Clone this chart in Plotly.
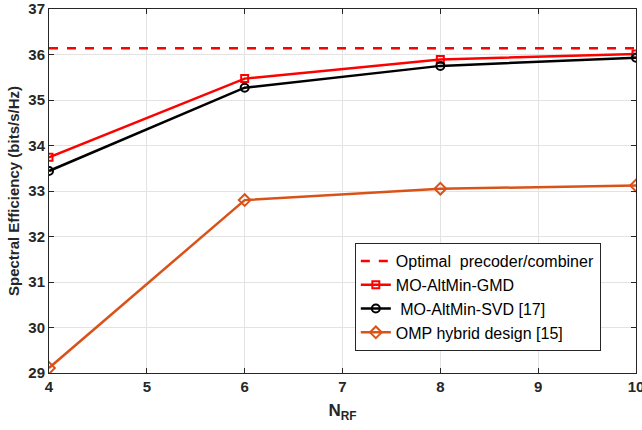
import plotly.graph_objects as go

n_rf = [4, 6, 8, 10]
optimal = [36.14, 36.14, 36.14, 36.14]
gmd = [33.74, 35.47, 35.89, 36.01]
svd = [33.44, 35.27, 35.75, 35.93]
omp = [29.11, 32.80, 33.05, 33.12]

fig = go.Figure()
fig.add_trace(go.Scatter(x=n_rf, y=optimal, mode="lines", name="Optimal  precoder/combiner",
                         line=dict(color="#ff0000", width=2.5, dash="dash")))
fig.add_trace(go.Scatter(x=n_rf, y=gmd, mode="lines+markers", name="MO-AltMin-GMD",
                         line=dict(color="#ff0000", width=2.5),
                         marker=dict(symbol="square-open", size=7, color="#ff0000", line=dict(width=2))))
fig.add_trace(go.Scatter(x=n_rf, y=svd, mode="lines+markers", name=" MO-AltMin-SVD [17]",
                         line=dict(color="#000000", width=2.5),
                         marker=dict(symbol="circle-open", size=8, color="#000000", line=dict(width=2))))
fig.add_trace(go.Scatter(x=n_rf, y=omp, mode="lines+markers", name="OMP hybrid design [15]",
                         line=dict(color="#d95319", width=2.5),
                         marker=dict(symbol="diamond-open", size=9, color="#d95319", line=dict(width=2))))

axis_common = dict(showgrid=True, gridcolor="#e3e3e3", gridwidth=1, showline=True, linecolor="#262626",
                   linewidth=1, mirror="ticks", ticks="inside", ticklen=5, tickcolor="#262626", zeroline=False,
                   automargin=False, ticklabeloverflow="allow",
                   tickfont=dict(family="Liberation Sans", size=15, color="#262626", weight="bold"))

fig.update_layout(
    width=642, height=430,
    margin=dict(l=49, r=6, t=9, b=57),
    paper_bgcolor="white", plot_bgcolor="white",
    font=dict(family="Liberation Sans", color="#262626"),
    xaxis=dict(range=[4, 10], tickvals=[4, 5, 6, 7, 8, 9, 10],
               title=dict(text="N<sub>RF</sub>", font=dict(size=17, weight="bold"), standoff=10),
               **axis_common),
    yaxis=dict(range=[29, 37], tickvals=list(range(29, 38)),
               title=dict(text="Spectral Efficiency (bits/s/Hz)", font=dict(size=15, weight="bold"), standoff=5),
               **axis_common),
    legend=dict(x=0.521, y=0.357, xanchor="left", yanchor="top", bgcolor="white",
                bordercolor="#262626", borderwidth=1, font=dict(size=16, color="#000000"),
                tracegroupgap=0, itemwidth=30),
    showlegend=True,
)

fig.write_html("out.html", config={"displayModeBar": False},
               post_script="document.body.style.margin='0';document.body.style.overflow='hidden';")
